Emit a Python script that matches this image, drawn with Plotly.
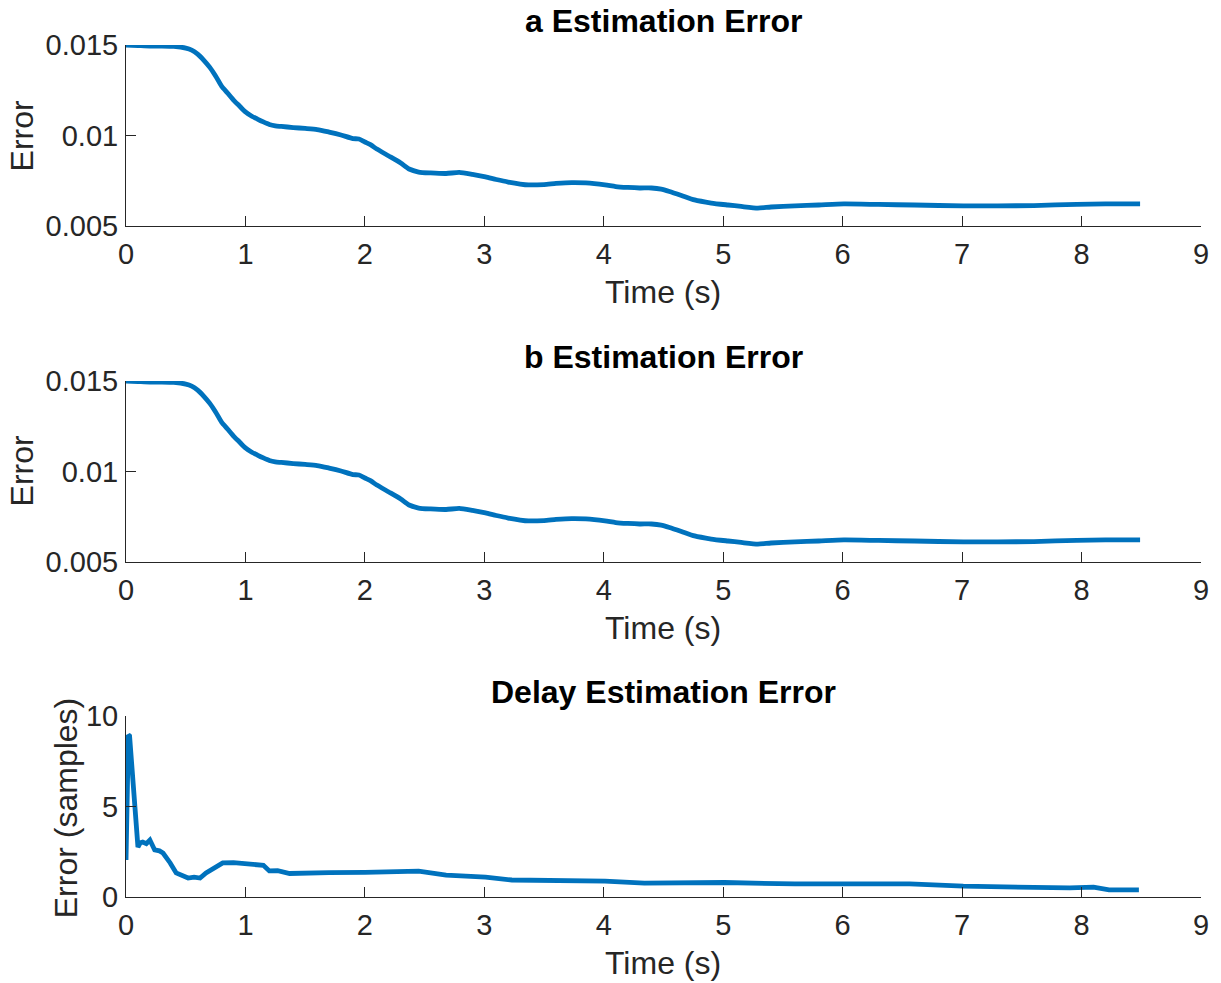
import plotly.graph_objects as go

# ---------------- data ----------------
a_time = [0, 0.1, 0.2, 0.3, 0.4, 0.5, 0.55, 0.6, 0.65, 0.7, 0.75, 0.8, 0.85, 0.9, 0.95,
          1.0, 1.05, 1.1, 1.15, 1.2, 1.25, 1.3, 1.4, 1.5, 1.6, 1.7, 1.8, 1.9, 1.95, 2.0,
          2.05, 2.1, 2.2, 2.3, 2.37, 2.45, 2.55, 2.68, 2.79, 2.9, 3.01, 3.1, 3.2, 3.3,
          3.37, 3.5, 3.6, 3.73, 3.85, 4.01, 4.1, 4.2, 4.3, 4.4, 4.48, 4.55, 4.65, 4.76,
          4.9, 5.04, 5.15, 5.29, 5.4, 5.6, 5.8, 6.01, 6.3, 6.6, 7.01, 7.3, 7.6, 7.96,
          8.2, 8.49]
a_error = [0.01500, 0.01497, 0.01494, 0.01494, 0.01492, 0.01483, 0.01472, 0.01450,
           0.01417, 0.01378, 0.01329, 0.01273, 0.01235, 0.01196, 0.01163, 0.01130,
           0.01108, 0.01091, 0.01075, 0.01061, 0.01053, 0.01050, 0.01044, 0.01039,
           0.01033, 0.01019, 0.01003, 0.00983, 0.00981, 0.00964, 0.00948, 0.00925,
           0.00887, 0.00848, 0.00815, 0.00798, 0.00793, 0.00790, 0.00796, 0.00785,
           0.00771, 0.00757, 0.00743, 0.00732, 0.00727, 0.00729, 0.00735, 0.00740,
           0.00738, 0.00727, 0.00718, 0.00713, 0.00710, 0.00710, 0.00704, 0.00691,
           0.00669, 0.00644, 0.00627, 0.00616, 0.00608, 0.00599, 0.00605, 0.00611,
           0.00616, 0.00622, 0.00619, 0.00616, 0.00611, 0.00611, 0.00613, 0.00620,
           0.00622, 0.00622]

b_time = list(a_time)
b_error = list(a_error)

delay_time = [0, 0.02, 0.03, 0.06, 0.1, 0.12, 0.14, 0.17, 0.2, 0.24, 0.28, 0.31, 0.34,
              0.37, 0.42, 0.47, 0.52, 0.57, 0.62, 0.67, 0.72, 0.81, 0.9, 1.0, 1.1, 1.15,
              1.2, 1.27, 1.37, 1.5, 1.7, 2.0, 2.2, 2.45, 2.68, 3.01, 3.23, 3.6, 4.01,
              4.34, 4.7, 5.01, 5.6, 6.01, 6.56, 7.01, 7.57, 7.9, 8.1, 8.23, 8.48]
delay_error = [2.05, 8.95, 8.9, 5.9, 2.76, 3.0, 3.04, 2.95, 3.15, 2.6, 2.55, 2.43, 2.2,
               1.88, 1.33, 1.2, 1.05, 1.1, 1.05, 1.33, 1.5, 1.88, 1.9, 1.82, 1.8, 1.75,
               1.44, 1.45, 1.3, 1.33, 1.35, 1.36, 1.4, 1.43, 1.21, 1.1, 0.94, 0.93, 0.88,
               0.77, 0.82, 0.8, 0.72, 0.72, 0.72, 0.6, 0.55, 0.5, 0.55, 0.39, 0.39]

titles = ["a Estimation Error", "b Estimation Error", "Delay Estimation Error"]
ylabels = ["Error", "Error", "Error (samples)"]
xlabel = "Time (s)"
x_ticks = [0, 1, 2, 3, 4, 5, 6, 7, 8, 9]
err_ticks = [0.005, 0.01, 0.015]
err_ticktext = ["0.005", "0.01", "0.015"]
delay_ticks = [0, 5, 10]

# ---------------- layout helpers ----------------
W, H = 1221, 983
L, R, T, B = 126, 1205, 45, 897
plot_h = B - T


def py(p):
    return (B - p) / plot_h


def px(p):
    return (p - L) / (R - L)


LINE = "#0072BD"
AX = "#262626"
FONT = "Liberation Sans, Arial, Helvetica, sans-serif"
TICKSIZE = 29

domains = [[py(226), py(45)], [py(562), py(381)], [py(897), py(716)]]

fig = go.Figure()
series = [(a_time, a_error, "spline"), (b_time, b_error, "spline"),
          (delay_time, delay_error, "linear")]
for i, (t, v, shape) in enumerate(series):
    sfx = "" if i == 0 else str(i + 1)
    line = dict(color=LINE, width=4.8, shape=shape)
    if shape == "spline":
        line["smoothing"] = 0.6
    fig.add_trace(go.Scatter(x=t, y=v, mode="lines", line=line,
                             xaxis="x" + sfx, yaxis="y" + sfx, showlegend=False,
                             hoverinfo="skip"))

layout = dict(width=W, height=H, paper_bgcolor="white", plot_bgcolor="white",
              margin=dict(l=L, r=W - R, t=T, b=H - B, pad=0),
              font=dict(family=FONT, color=AX, size=TICKSIZE), showlegend=False)

for i in range(3):
    sfx = "" if i == 0 else str(i + 1)
    xa = dict(domain=[0, 1], range=[0, 9], tickvals=x_ticks, ticks="inside", ticklen=10,
              tickwidth=1, tickcolor=AX, showline=True, linecolor=AX, linewidth=1,
              showgrid=False, zeroline=False, anchor="y" + sfx, mirror=False,
              tickfont=dict(size=TICKSIZE, color=AX, family=FONT), ticklabelstandoff=2,
              fixedrange=True)
    if i == 2:
        ya_vals, ya_text, yr = delay_ticks, [str(v) for v in delay_ticks], [0, 10]
    else:
        ya_vals, ya_text, yr = err_ticks, err_ticktext, [0.005, 0.015]
    ya = dict(domain=domains[i], range=yr, tickvals=ya_vals, ticktext=ya_text,
              ticks="inside", ticklen=10, tickwidth=1, tickcolor=AX, showline=True,
              linecolor=AX, linewidth=1, showgrid=False, zeroline=False,
              anchor="x" + sfx, mirror=False,
              tickfont=dict(size=TICKSIZE, color=AX, family=FONT), ticklabelstandoff=1,
              fixedrange=True)
    layout["xaxis" + sfx] = xa
    layout["yaxis" + sfx] = ya

fig.update_layout(**layout)

ann = []
title_y = [21, 357, 692]
xlab_y = [292, 628, 963]
ylab = [(22, 136), (22, 471), (66, 808)]
for i in range(3):
    ann.append(dict(text="<b>" + titles[i] + "</b>", xref="paper", yref="paper",
                    x=px(666), y=py(title_y[i]), xanchor="center", yanchor="middle",
                    showarrow=False, font=dict(size=32, color="black", family=FONT)))
    ann.append(dict(text=xlabel, xref="paper", yref="paper", x=px(665), y=py(xlab_y[i]),
                    xanchor="center", yanchor="middle", showarrow=False,
                    font=dict(size=32, color=AX, family=FONT)))
    ann.append(dict(text=ylabels[i], xref="paper", yref="paper", x=px(ylab[i][0]),
                    y=py(ylab[i][1]), xanchor="center", yanchor="middle", textangle=-90,
                    showarrow=False, font=dict(size=32, color=AX, family=FONT)))
fig.update_layout(annotations=ann)

fig.write_html("out.html")
